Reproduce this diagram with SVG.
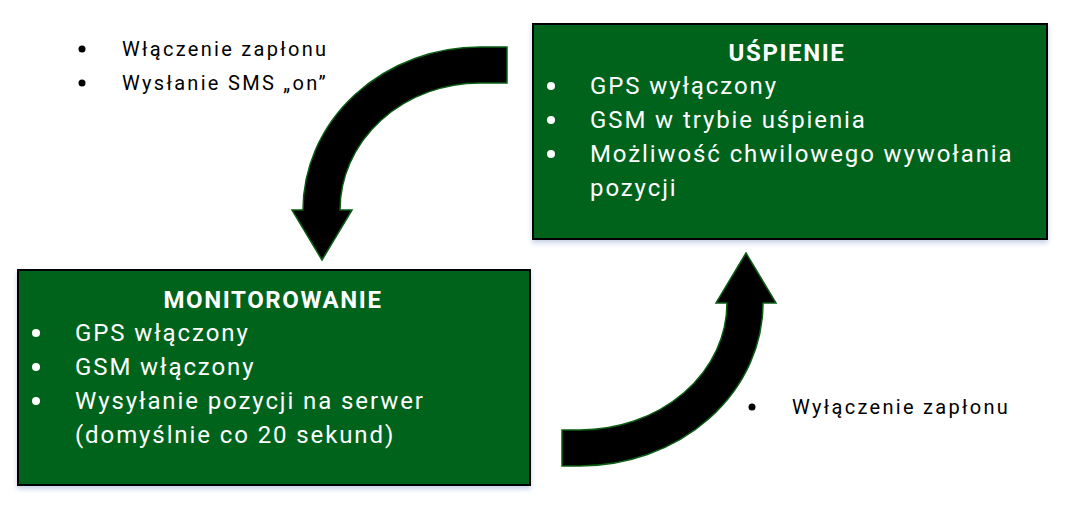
<svg xmlns="http://www.w3.org/2000/svg" width="1083" height="519" viewBox="0 0 1083 519">
<defs>
<filter id="sh" x="-5%" y="-5%" width="110%" height="115%">
<feDropShadow dx="0" dy="3" stdDeviation="2.5" flood-color="#9fb3d6" flood-opacity="0.6"/>
</filter>
</defs>
<style>
.box{fill:#04631a;stroke:#000;stroke-width:2}
.t{font-family:Roboto,"Liberation Sans",sans-serif;font-size:24px;fill:#fff;letter-spacing:1.9px}
.h{font-family:Roboto,"Liberation Sans",sans-serif;font-size:24px;font-weight:bold;fill:#fff;text-anchor:middle;letter-spacing:1.6px}
.l{font-family:Roboto,"Liberation Sans",sans-serif;font-size:20px;fill:#000;letter-spacing:2.3px}
.arr{fill:#000;stroke:#0b5e14;stroke-width:1.5}
</style>
<rect width="1083" height="519" fill="#fff"/>
<g id="connectors">
<path class="arr" d="M507,47 L480,47 A177,163 0 0 0 303,210 L292,210 L322,260 L352,210 L340,210 A140,127 0 0 1 480,83 L507,83 Z"/>
<path class="arr" d="M562,430 L580,430 A147,127 0 0 0 727,303 L716,303 L746,253 L776,303 L763,303 A183,163 0 0 1 580,466 L562,466 Z"/>
</g>
<g id="label-on">
<circle cx="82" cy="49" r="3.5" fill="#000"/>
<text class="l" x="122" y="56">Włączenie zapłonu</text>
<circle cx="82" cy="83" r="3.5" fill="#000"/>
<text class="l" x="122" y="90">Wysłanie SMS „on”</text>
</g>
<g id="label-off">
<circle cx="752" cy="407" r="3.5" fill="#000"/>
<text class="l" x="792" y="414">Wyłączenie zapłonu</text>
</g>
<g id="uspienie">
<rect class="box" x="533" y="24" width="514" height="215" filter="url(#sh)"/>
<text class="h" x="787" y="61">UŚPIENIE</text>
<circle cx="551" cy="86" r="4" fill="#fff"/>
<text class="t" x="590" y="94">GPS wyłączony</text>
<circle cx="551" cy="120" r="4" fill="#fff"/>
<text class="t" x="590" y="128">GSM w trybie uśpienia</text>
<circle cx="551" cy="154" r="4" fill="#fff"/>
<text class="t" x="590" y="162">Możliwość chwilowego wywołania</text>
<text class="t" x="590" y="196">pozycji</text>
</g>
<g id="monitorowanie">
<rect class="box" x="18" y="270" width="512" height="215" filter="url(#sh)"/>
<text class="h" x="273" y="308">MONITOROWANIE</text>
<circle cx="36" cy="333" r="4" fill="#fff"/>
<text class="t" x="75" y="341">GPS włączony</text>
<circle cx="36" cy="367" r="4" fill="#fff"/>
<text class="t" x="75" y="375">GSM włączony</text>
<circle cx="36" cy="401" r="4" fill="#fff"/>
<text class="t" x="75" y="409">Wysyłanie pozycji na serwer</text>
<text class="t" x="75" y="443">(domyślnie co 20 sekund)</text>
</g>
</svg>
